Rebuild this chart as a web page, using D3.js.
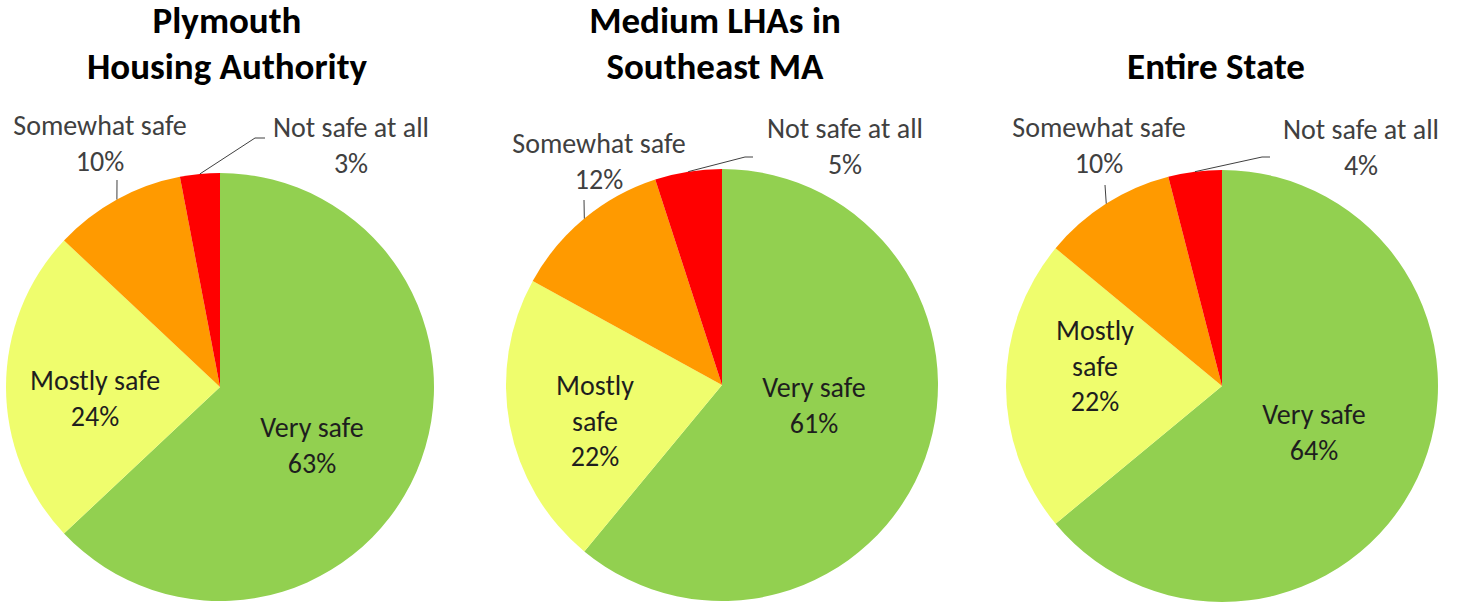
<!DOCTYPE html>
<html>
<head>
<meta charset="utf-8">
<script src="https://cdn.jsdelivr.net/npm/d3@7"></script>
<style>
  html, body { margin: 0; padding: 0; background: #fff; }
  svg { display: block; }
</style>
</head>
<body>
<svg id="chart" width="1458" height="603"></svg>
<script>
// ---- data ----
const categories = ["Very safe", "Mostly safe", "Somewhat safe", "Not safe at all"];
const chartTitles = [
  ["Plymouth", "Housing Authority"],
  ["Medium LHAs in", "Southeast MA"],
  ["Entire State"]
];
const plymouthValues = [63, 24, 10, 3];
const southeastValues = [61, 22, 12, 5];
const stateValues = [64, 22, 10, 4];
const seriesValues = [plymouthValues, southeastValues, stateValues];
const colors = ["#92D050", "#EFFD6D", "#FF9A00", "#FF0000"];

// label text lines per chart (category name split as in the original)
const labelLines = [
  [["Very safe"], ["Mostly safe"], ["Somewhat safe"], ["Not safe at all"]],
  [["Very safe"], ["Mostly", "safe"], ["Somewhat safe"], ["Not safe at all"]],
  [["Very safe"], ["Mostly", "safe"], ["Somewhat safe"], ["Not safe at all"]]
];

// ---- layout ----
const layout = [
  { cx: 220, cy: 387, r: 214, titleX: 227, titleBase: [33, 79],
    labels: [[92, 50], [-125, 3], [-120, -252], [131, -250]],
    leaders: { 2: [[-103, -207]], 3: [[45, -249], [35, -249]] } },
  { cx: 722, cy: 385, r: 216, titleX: 715, titleBase: [33, 79],
    labels: [[92, 12], [-127, 10], [-123, -232], [123, -247]],
    leaders: { 2: [[-138, -185]], 3: [[31, -228], [23, -228]] } },
  { cx: 1222, cy: 386, r: 216, titleX: 1216, titleBase: [79],
    labels: [[92, 38], [-127, -46], [-123, -249], [139, -247]],
    leaders: { 2: [[-117, -201]], 3: [[48, -229], [40, -229]] } }
];
const lineH = 35.5;
const fontFamily = "Carlito, Calibri, Lato, 'Open Sans', sans-serif";

const svg = d3.select("#chart");
const color = d3.scaleOrdinal().domain(categories).range(colors);
const pie = d3.pie().sort(null).value(d => d.value);

seriesValues.forEach((vals, i) => {
  const L = layout[i];
  const data = categories.map((c, k) => ({ cat: c, value: vals[k], k }));
  const arcs = pie(data);
  const arc = d3.arc().innerRadius(0).outerRadius(L.r);
  const g = svg.append("g").attr("transform", `translate(${L.cx},${L.cy})`);

  g.selectAll("path.slice").data(arcs).join("path")
    .attr("class", "slice")
    .attr("d", arc)
    .attr("fill", d => color(d.data.cat));

  // title
  svg.append("g").selectAll("text").data(chartTitles[i]).join("text")
    .attr("x", L.titleX)
    .attr("y", (d, j) => L.titleBase[j])
    .attr("text-anchor", "middle")
    .attr("font-family", fontFamily)
    .attr("font-weight", "bold")
    .attr("font-size", 37)
    .attr("fill", "#000")
    .text(d => d);

  // leader lines
  Object.keys(L.leaders).forEach(key => {
    const a = arcs[+key];
    const mid = (a.startAngle + a.endAngle) / 2;
    const end = [L.r * Math.sin(mid), -L.r * Math.cos(mid)];
    const pts = L.leaders[key].concat([end]);
    g.append("path")
      .attr("d", d3.line()(pts))
      .attr("fill", "none")
      .attr("stroke", "#404040")
      .attr("stroke-width", 1);
  });

  // data labels
  arcs.forEach((a, k) => {
    const lines = labelLines[i][k].concat([a.data.value + "%"]);
    const [dx, dy] = L.labels[k];
    const t = g.append("text")
      .attr("font-family", fontFamily)
      .attr("font-size", 28)
      .attr("fill", k < 2 ? "#1e1e1e" : "#404040")
      .attr("text-anchor", "middle");
    lines.forEach((ln, j) => {
      t.append("tspan").attr("x", dx).attr("y", dy + j * lineH).text(ln);
    });
  });
});
</script>
</body>
</html>
